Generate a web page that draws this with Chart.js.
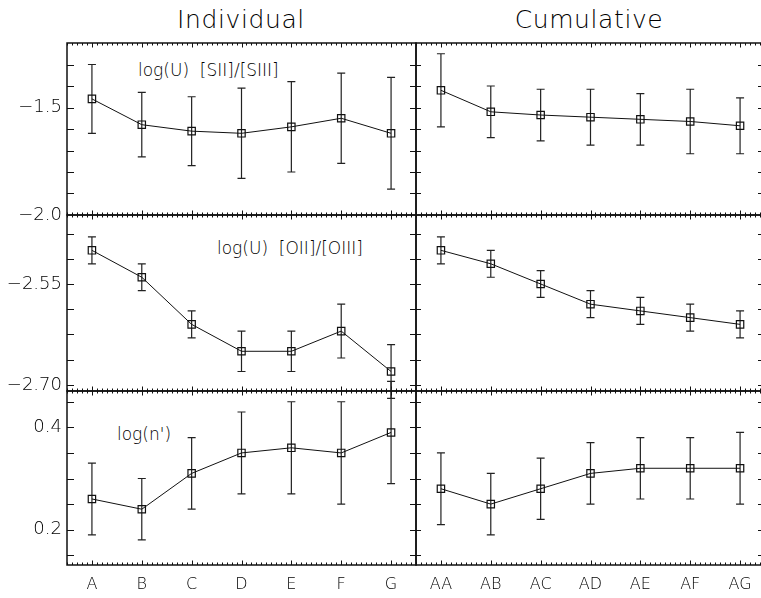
<!DOCTYPE html>
<html><head><meta charset="utf-8">
<script src="https://cdn.jsdelivr.net/npm/chart.js@4.4.1/dist/chart.umd.min.js"></script>
<style>
html,body{margin:0;padding:0;background:#fff;width:761px;height:598px;overflow:hidden;position:relative;}
canvas{position:absolute;left:0;top:0;}
.t{position:absolute;font-family:'DejaVu Sans';font-weight:200;color:#000;white-space:pre;line-height:1;}
</style></head><body>
<div class="t" style="left:141px;width:200px;text-align:center;top:7px;font-size:25px;letter-spacing:0.6px">Individual</div>
<div class="t" style="left:489px;width:200px;text-align:center;top:7px;font-size:25px;letter-spacing:0.6px">Cumulative</div>
<div class="t" style="left:138px;top:62px;font-size:17px">log(U)  [SII]/[SIII]</div>
<div class="t" style="left:217px;top:240px;font-size:17px">log(U)  [OII]/[OIII]</div>
<div class="t" style="left:117px;top:426px;font-size:17px">log(n')</div>
<script>
// ---- data ----
const indivCats = ['A','B','C','D','E','F','G'];
const cumulCats = ['AA','AB','AC','AD','AE','AF','AG'];

const siiIndiv    = [-1.46, -1.58, -1.61, -1.62, -1.59, -1.55, -1.62];
const siiIndivErr = [0.16, 0.15, 0.16, 0.21, 0.21, 0.21, 0.26];
const siiCumul    = [-1.42, -1.52, -1.535, -1.545, -1.555, -1.565, -1.585];
const siiCumulErr = [0.17, 0.12, 0.12, 0.13, 0.12, 0.15, 0.13];

const oiiIndiv    = [-2.50, -2.54, -2.61, -2.65, -2.65, -2.62, -2.68];
const oiiIndivErr = [0.02, 0.02, 0.02, 0.03, 0.03, 0.04, 0.04];
const oiiCumul    = [-2.50, -2.52, -2.55, -2.58, -2.59, -2.60, -2.61];
const oiiCumulErr = [0.02, 0.02, 0.02, 0.02, 0.02, 0.02, 0.02];

const nIndiv      = [0.26, 0.24, 0.31, 0.35, 0.36, 0.35, 0.39];
const nIndivErr   = [0.07, 0.06, 0.07, 0.08, 0.09, 0.10, 0.10];
const nCumul      = [0.28, 0.25, 0.28, 0.31, 0.32, 0.32, 0.32];
const nCumulErr   = [0.07, 0.06, 0.06, 0.06, 0.06, 0.06, 0.07];

// tick labels
const siiTickVals = [-2.0, -1.5];   const siiTickText = ['\u22122.0', '\u22121.5'];
const oiiTickVals = [-2.70, -2.55]; const oiiTickText = ['\u22122.70', '\u22122.55'];
const nTickVals   = [0.2, 0.4];     const nTickText   = ['0.2', '0.4'];
// tick marks
const siiMarks = [-1.9, -1.8, -1.7, -1.6, -1.5, -1.4, -1.3];
const oiiMarks = [-2.70, -2.6625, -2.625, -2.5875, -2.55, -2.5125, -2.475];
const nMarks   = [0.15, 0.2, 0.25, 0.3, 0.35, 0.4, 0.45];

// ---- layout ----
const CW = 780, CH = 598;
const YAXW = 66, XAXH = 32;
const cols = [[67, 416], [416, 765]];
const rows = [
  {t: 43,  b: 215, min: -2.0,   max: -1.2,   marks: siiMarks, tv: siiTickVals, tt: siiTickText},
  {t: 215, b: 391, min: -2.709, max: -2.4475, marks: oiiMarks, tv: oiiTickVals, tt: oiiTickText},
  {t: 391, b: 565, min: 0.131,  max: 0.471,  marks: nMarks,   tv: nTickVals,   tt: nTickText}
];
const FONT = {family: "'DejaVu Sans'", size: 18, weight: '200'};
const XFONT = {family: "'DejaVu Sans'", size: 16, weight: '200'};

const frameTicks = {
  id: 'frameTicks',
  afterDraw(chart, args, o) {
    const {ctx, chartArea: a, scales: {x, y}} = chart;
    ctx.save();
    ctx.strokeStyle = '#111';
    ctx.lineWidth = 1;
    o.marks.forEach(v => {
      const py = Math.round(y.getPixelForValue(v)) + 0.5;
      ctx.beginPath();
      ctx.moveTo(a.left, py); ctx.lineTo(a.left + o.lenL, py);
      ctx.moveTo(a.right, py); ctx.lineTo(a.right - o.lenR, py);
      ctx.stroke();
    });
    const n = x.getLabels().length;
    for (let k = -5; k <= n * 10 - 5; k++) {
      const v = k / 10;
      const px = Math.round(x.getPixelForValue(v)) + 0.5;
      const len = (k % 10 === 0) ? 4.5 : 2.5;
      ctx.beginPath();
      ctx.moveTo(px, a.top); ctx.lineTo(px, a.top + len);
      ctx.moveTo(px, a.bottom); ctx.lineTo(px, a.bottom - len);
      ctx.stroke();
    }
    ctx.lineWidth = 1.5;
    ctx.strokeRect(a.left, a.top, a.right - a.left, a.bottom - a.top);
    ctx.restore();
  }
};

const errorBars = {
  id: 'errorBars',
  beforeDatasetsDraw(chart, args, o) {
    const {ctx, scales: {x, y}} = chart;
    const vals = chart.data.datasets[0].data;
    ctx.save();
    ctx.strokeStyle = '#222';
    ctx.lineWidth = 1.2;
    vals.forEach((v, i) => {
      const px = x.getPixelForValue(i);
      const top = y.getPixelForValue(v + o.err[i]);
      const bot = y.getPixelForValue(v - o.err[i]);
      ctx.beginPath();
      ctx.moveTo(px, top); ctx.lineTo(px, bot);
      ctx.moveTo(px - 4, top); ctx.lineTo(px + 4, top);
      ctx.moveTo(px - 4, bot); ctx.lineTo(px + 4, bot);
      ctx.stroke();
    });
    ctx.restore();
  }
};

function makePanel(ci, ri, cats, vals, err) {
  const c = cols[ci], r = rows[ri];
  const showY = ci === 0, showX = ri === 2;
  const yw = showY ? YAXW : 0, xh = showX ? XAXH : 0;
  const canvas = document.createElement('canvas');
  canvas.width = CW; canvas.height = CH;
  canvas.style.width = CW + 'px'; canvas.style.height = CH + 'px';
  document.body.appendChild(canvas);
  new Chart(canvas, {
    type: 'line',
    data: {labels: cats, datasets: [{
      data: vals, borderColor: '#111', borderWidth: 1, tension: 0, fill: false,
      pointStyle: 'rect', pointRadius: 5.2, pointBorderColor: '#111',
      pointBackgroundColor: 'rgba(0,0,0,0)', pointBorderWidth: 1.2, clip: false
    }]},
    options: {
      responsive: false, maintainAspectRatio: false, animation: false, events: [],
      layout: {padding: {left: c[0] - yw, right: CW - c[1], top: r.t, bottom: CH - r.b - xh}},
      plugins: {
        legend: {display: false}, tooltip: {enabled: false}, title: {display: false},
        frameTicks: {marks: r.marks, lenL: ci === 0 ? 7 : 5, lenR: ci === 0 ? 6 : 7},
        errorBars: {err: err}
      },
      scales: {
        x: {
          type: 'category', offset: true,
          grid: {display: false, drawTicks: false}, border: {display: false},
          ticks: {display: showX, padding: 10, font: XFONT, color: '#000', maxRotation: 0, autoSkip: false},
          afterFit(s) { s.height = xh; }
        },
        y: {
          min: r.min, max: r.max,
          grid: {display: false, drawTicks: false}, border: {display: false},
          ticks: {display: showY, padding: 5, font: FONT, color: '#000',
                  callback: (v, i) => r.tt[i]},
          afterBuildTicks(s) { s.ticks = r.tv.map(v => ({value: v})); },
          afterFit(s) { s.width = yw; }
        }
      }
    },
    plugins: [frameTicks, errorBars]
  });
}

makePanel(0, 0, indivCats, siiIndiv, siiIndivErr);
makePanel(1, 0, cumulCats, siiCumul, siiCumulErr);
makePanel(0, 1, indivCats, oiiIndiv, oiiIndivErr);
makePanel(1, 1, cumulCats, oiiCumul, oiiCumulErr);
makePanel(0, 2, indivCats, nIndiv, nIndivErr);
makePanel(1, 2, cumulCats, nCumul, nCumulErr);
</script>
</body></html>
